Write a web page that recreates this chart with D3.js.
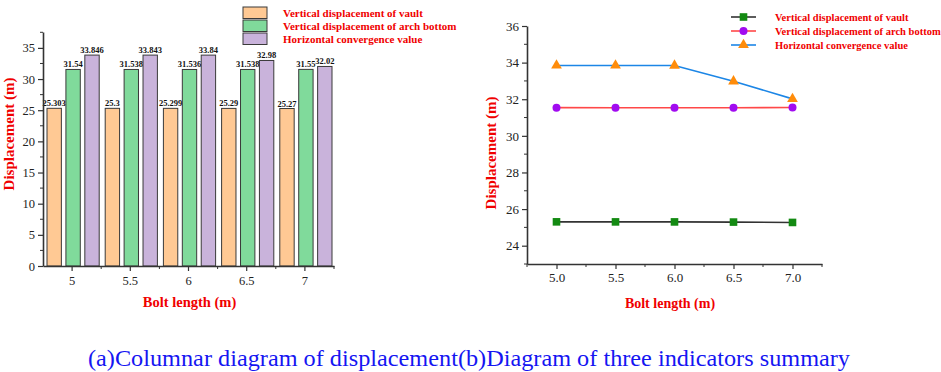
<!DOCTYPE html>
<html><head><meta charset="utf-8">
<script src="https://cdn.jsdelivr.net/npm/d3@7"></script>
<style>body{margin:0;background:#fff}svg{display:block}
svg text{font-family:"Liberation Serif","Times New Roman",Times,serif}</style>
</head><body>
<svg id="c" width="941" height="372"></svg>
<script>
const categories = ["5", "5.5", "6", "6.5", "7"];
const boltLengths = [5.0, 5.5, 6.0, 6.5, 7.0];
const seriesNames = ["Vertical displacement of vault", "Vertical displacement of arch bottom", "Horizontal convergence value"];
const vault = [25.303, 25.3, 25.299, 25.29, 25.27];
const archBottom = [31.54, 31.538, 31.536, 31.538, 31.55];
const horizontal = [33.846, 33.843, 33.84, 32.98, 32.02];
const vaultLabels = ["25.303", "25.3", "25.299", "25.29", "25.27"];
const archLabels = ["31.54", "31.538", "31.536", "31.538", "31.55"];
const horizLabels = ["33.846", "33.843", "33.84", "32.98", "32.02"];
const leftYTicks = [0, 5, 10, 15, 20, 25, 30, 35];
const rightYTicks = [24, 26, 28, 30, 32, 34, 36];
const rightXTicks = [5.0, 5.5, 6.0, 6.5, 7.0];
const caption = "(a)Columnar diagram of displacement(b)Diagram of three indicators summary";

const barFill = ["#FFC994", "#80DA9B", "#C9B3DB"];
const lineColor = ["#333333", "#FF4848", "#1C86E6"];
const markerColor = ["#138A12", "#A10BF0", "#FF8C0A"];
const axisCol = "#333";

const svg = d3.select("#c");
const allSeries = [vault, archBottom, horizontal];
const allLabels = [vaultLabels, archLabels, horizLabels];

function styleAxis(g){
  g.attr("font-family", null);
  g.select(".domain").attr("stroke", axisCol).attr("stroke-width", 1.6);
  g.selectAll(".tick line").attr("stroke", axisCol).attr("stroke-width", 1.2);
  g.selectAll(".tick text").attr("fill", "#222");
}

// ---------- Left: grouped bars ----------
{
  const L = 43, R = 334, T = 32, B = 266;
  const x0 = d3.scaleBand().domain(categories).range([L, R]).paddingInner(0).paddingOuter(0);
  const x1 = d3.scaleBand().domain([0,1,2]).range([4, x0.bandwidth()-2]).paddingInner(0.24);
  const y = d3.scaleLinear().domain([0, 37.55]).range([B, T]);

  const g = svg.append("g");
  categories.forEach((c, i) => {
    allSeries.forEach((s, k) => {
      const bx = x0(c) + x1(k);
      g.append("rect").attr("x", bx).attr("y", y(s[i])).attr("width", x1.bandwidth())
        .attr("height", y(0) - y(s[i])).attr("fill", barFill[k]).attr("stroke", "#3a3a3a").attr("stroke-width", 1);
      g.append("text").attr("x", bx + x1.bandwidth()/2).attr("y", y(s[i]) - 2)
        .attr("text-anchor", "middle").attr("font-weight", "bold")
        .attr("font-size", 8.5).attr("fill", "#111").text(allLabels[k][i]);
    });
  });

  const minorY = d3.range(0, 37.6, 2.5).filter(v => v % 5 !== 0);
  g.selectAll(".my").data(minorY).enter().append("line")
    .attr("x1", L - 3).attr("x2", L).attr("y1", d => y(d)).attr("y2", d => y(d)).attr("stroke", axisCol);
  const ya = g.append("g").attr("transform", `translate(${L},0)`)
    .call(d3.axisLeft(y).tickValues(leftYTicks).tickSize(5).tickPadding(3).tickSizeOuter(0));
  styleAxis(ya); ya.selectAll(".tick text").attr("font-size", 12.5);

  const xa = g.append("g").attr("transform", `translate(0,${B})`)
    .call(d3.axisBottom(x0).tickSize(5).tickPadding(5).tickSizeOuter(0));
  styleAxis(xa); xa.selectAll(".tick text").attr("font-size", 12.5);
  const bounds = categories.map(c => x0(c)).concat([R]).slice(1);
  g.selectAll(".mx").data(bounds).enter().append("line")
    .attr("x1", d => d).attr("x2", d => d).attr("y1", B).attr("y2", B + 3).attr("stroke", axisCol);

  g.append("text").attr("x", (L+R)/2 + 1).attr("y", 307).attr("text-anchor", "middle")
    .attr("font-weight", "bold").attr("font-size", 14.5).attr("fill", "#F00000").text("Bolt length (m)");
  g.append("text").attr("transform", `translate(14,134) rotate(-90)`).attr("text-anchor", "middle")
    .attr("font-weight", "bold").attr("font-size", 15).attr("fill", "#F00000").text("Displacement (m)");

  const leg = g.append("g");
  seriesNames.forEach((n, k) => {
    const ly = 7 + k * 13;
    leg.append("rect").attr("x", 243).attr("y", ly).attr("width", 24).attr("height", 11.5)
      .attr("fill", barFill[k]).attr("stroke", "#3a3a3a").attr("stroke-width", 1);
    leg.append("text").attr("x", 283).attr("y", ly + 9.5).attr("font-weight", "bold")
      .attr("font-size", 11).attr("fill", "#F00000").text(n);
  });
}

// ---------- Right: lines ----------
{
  const L = 527, R = 822, T = 25, B = 264;
  const x = d3.scaleLinear().domain([4.75, 7.25]).range([L, R]);
  const y = d3.scaleLinear().domain([23, 36]).range([B, T + 1]);
  const g = svg.append("g");

  const ya = g.append("g").attr("transform", `translate(${L},0)`)
    .call(d3.axisLeft(y).tickValues(rightYTicks).tickSize(5).tickPadding(3).tickSizeOuter(0));
  styleAxis(ya); ya.selectAll(".tick text").attr("font-size", 13);
  const minorY = d3.range(23, 36.1, 1).filter(v => v % 2 === 1);
  g.selectAll(".my").data(minorY).enter().append("line")
    .attr("x1", L - 3).attr("x2", L).attr("y1", d => y(d)).attr("y2", d => y(d)).attr("stroke", axisCol);

  const xa = g.append("g").attr("transform", `translate(0,${B})`)
    .call(d3.axisBottom(x).tickValues(rightXTicks).tickFormat(d3.format(".1f")).tickSize(5).tickPadding(4).tickSizeOuter(0));
  styleAxis(xa); xa.selectAll(".tick text").attr("font-size", 13);
  const minorX = [4.75, 5.25, 5.75, 6.25, 6.75, 7.25];
  g.selectAll(".mx").data(minorX).enter().append("line")
    .attr("x1", d => x(d)).attr("x2", d => x(d)).attr("y1", B).attr("y2", B + 3).attr("stroke", axisCol);

  const line = d3.line().x((d, i) => x(boltLengths[i])).y(d => y(d));
  const tri = d3.symbol().type(d3.symbolTriangle).size(50);
  function marker(sel, k, cx, cy){
    if (k === 0) sel.append("rect").attr("x", cx - 3.8).attr("y", cy - 3.8).attr("width", 7.6).attr("height", 7.6).attr("fill", markerColor[0]);
    else if (k === 1) sel.append("circle").attr("cx", cx).attr("cy", cy).attr("r", 4).attr("fill", markerColor[1]);
    else sel.append("path").attr("d", tri()).attr("transform", `translate(${cx},${cy})`).attr("fill", markerColor[2]);
  }
  allSeries.forEach((s, k) => {
    g.append("path").datum(s).attr("d", line).attr("fill", "none").attr("stroke", lineColor[k]).attr("stroke-width", 1.6);
    s.forEach((v, i) => marker(g, k, x(boltLengths[i]), y(v)));
  });

  g.append("text").attr("x", 670).attr("y", 308).attr("text-anchor", "middle")
    .attr("font-weight", "bold").attr("font-size", 14).attr("fill", "#F00000").text("Bolt length (m)");
  g.append("text").attr("transform", `translate(496,153) rotate(-90)`).attr("text-anchor", "middle")
    .attr("font-weight", "bold").attr("font-size", 15).attr("fill", "#F00000").text("Displacement (m)");

  seriesNames.forEach((n, k) => {
    const ly = 17 + k * 14;
    g.append("line").attr("x1", 731).attr("x2", 756).attr("y1", ly).attr("y2", ly).attr("stroke", lineColor[k]).attr("stroke-width", 1.6);
    marker(g, k, 743.5, ly);
    g.append("text").attr("x", 775).attr("y", ly + 3.5).attr("font-weight", "bold")
      .attr("font-size", 10.5).attr("fill", "#F00000").text(n);
  });
}

svg.append("text").attr("x", 88).attr("y", 366).attr("font-size", 23)
  .attr("fill", "#1515F2").attr("textLength", 762).attr("lengthAdjust", "spacingAndGlyphs").text(caption);
</script>
</body></html>
